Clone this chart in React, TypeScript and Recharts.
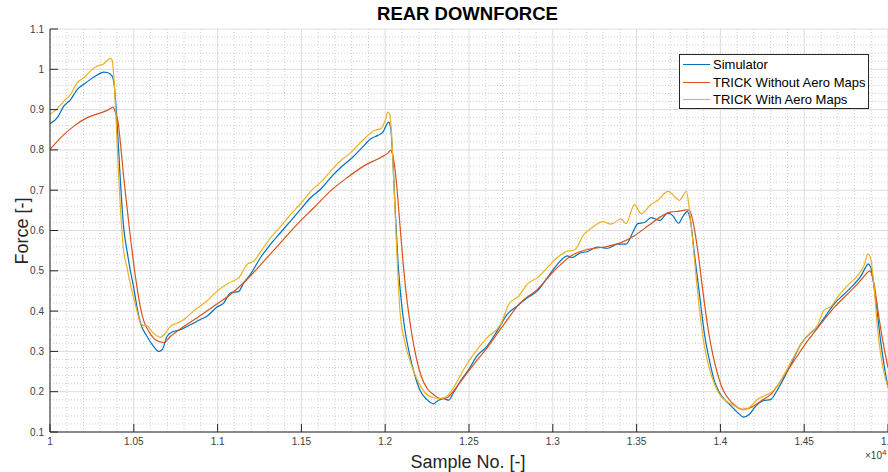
import React from "react";
import { LineChart, Line, XAxis, YAxis, CartesianGrid, Legend } from "recharts";

const FONT = "'Liberation Sans', Arial, Helvetica, sans-serif";
const AXIS = "#262626";

// tick labels (sample no. shown as x 10^4)
const xTicks = [10000, 10500, 11000, 11500, 12000, 12500, 13000, 13500, 14000, 14500, 15000];
const yTicks = [0.1, 0.2, 0.3, 0.4, 0.5, 0.6, 0.7, 0.8, 0.9, 1.0, 1.1];

// minor grid, every 100 samples / every 0.02
const xMinor = Array.from({ length: 51 }, (_, i) => 10000 + i * 100).filter((v) => v % 500 !== 0);
const yMinor = Array.from({ length: 51 }, (_, i) => +(0.1 + i * 0.02).toFixed(2)).filter(
  (v) => Math.round(v * 100) % 10 !== 0
);

// Simulator
const simSample = [
  10000, 10044, 10083, 10123, 10163, 10202, 10242, 10282, 10321, 10341, 10371, 10385, 10397, 10411, 10425,
  10440, 10460, 10480, 10500, 10520, 10540, 10579, 10619, 10649, 10669, 10698, 10728, 10778, 10837, 10897,
  10936, 10996, 11036, 11076, 11126, 11156, 11196, 11256, 11316, 11376, 11436, 11496, 11556, 11616, 11676,
  11736, 11796, 11856, 11916, 11956, 11986, 12006, 12020, 12032, 12046, 12060, 12076, 12096, 12116, 12146,
  12176, 12208, 12248, 12288, 12318, 12348, 12378, 12408, 12448, 12498, 12548, 12608, 12668, 12728, 12788,
  12848, 12908, 12968, 13027, 13087, 13117, 13157, 13207, 13267, 13327, 13387, 13437, 13477, 13507, 13547,
  13587, 13637, 13686, 13716, 13750, 13776, 13802, 13821, 13845, 13875, 13905, 13935, 13964, 13994, 14024,
  14063, 14103, 14139, 14173, 14212, 14252, 14302, 14331, 14381, 14431, 14480, 14530, 14579, 14629, 14679,
  14738, 14798, 14837, 14867, 14881, 14897, 14917, 14937, 14956, 14976, 15000,
];
const simForce = [
  0.865, 0.88, 0.909, 0.925, 0.95, 0.963, 0.975, 0.986, 0.993, 0.992, 0.983, 0.954, 0.888, 0.789, 0.689,
  0.606, 0.548, 0.499, 0.457, 0.408, 0.37, 0.337, 0.312, 0.3, 0.304, 0.337, 0.348, 0.354, 0.366, 0.379,
  0.387, 0.41, 0.42, 0.445, 0.449, 0.47, 0.491, 0.533, 0.566, 0.595, 0.624, 0.653, 0.682, 0.703, 0.732,
  0.757, 0.778, 0.803, 0.828, 0.836, 0.844, 0.861, 0.869, 0.857, 0.774, 0.649, 0.524, 0.425, 0.358, 0.292,
  0.242, 0.203, 0.181, 0.17, 0.179, 0.183, 0.179, 0.198, 0.226, 0.255, 0.289, 0.313, 0.351, 0.392, 0.413,
  0.433, 0.45, 0.483, 0.516, 0.537, 0.533, 0.543, 0.548, 0.559, 0.556, 0.566, 0.566, 0.595, 0.617, 0.62,
  0.632, 0.625, 0.643, 0.637, 0.618, 0.635, 0.647, 0.625, 0.542, 0.442, 0.343, 0.277, 0.227, 0.198, 0.181,
  0.165, 0.148, 0.137, 0.144, 0.165, 0.177, 0.181, 0.198, 0.235, 0.277, 0.318, 0.343, 0.36, 0.389, 0.418,
  0.442, 0.467, 0.486, 0.509, 0.517, 0.509, 0.459, 0.393, 0.326, 0.268, 0.21,
];

// TRICK Without Aero Maps
const noMapSample = [
  10000, 10063, 10143, 10222, 10302, 10341, 10361, 10375, 10391, 10405, 10421, 10440, 10460, 10480, 10500,
  10520, 10540, 10560, 10589, 10629, 10679, 10718, 10778, 10876, 10976, 11076, 11176, 11276, 11376, 11476,
  11576, 11676, 11776, 11876, 11976, 12016, 12032, 12046, 12066, 12086, 12106, 12126, 12156, 12186, 12216,
  12250, 12288, 12328, 12368, 12408, 12468, 12528, 12608, 12708, 12808, 12908, 13008, 13108, 13207, 13307,
  13407, 13487, 13567, 13647, 13706, 13756, 13795, 13815, 13835, 13865, 13895, 13925, 13954, 13984, 14014,
  14044, 14083, 14133, 14183, 14242, 14302, 14361, 14440, 14520, 14599, 14679, 14758, 14837, 14867, 14891,
  14917, 14946, 14976, 15000,
];
const noMapForce = [
  0.801, 0.83, 0.859, 0.88, 0.892, 0.898, 0.903, 0.906, 0.892, 0.872, 0.814, 0.731, 0.656, 0.582, 0.515,
  0.457, 0.408, 0.375, 0.35, 0.329, 0.322, 0.337, 0.356, 0.383, 0.412, 0.441, 0.479, 0.524, 0.57, 0.616,
  0.657, 0.699, 0.732, 0.761, 0.782, 0.792, 0.799, 0.786, 0.724, 0.624, 0.524, 0.441, 0.35, 0.283, 0.237,
  0.208, 0.193, 0.183, 0.185, 0.202, 0.235, 0.268, 0.309, 0.367, 0.421, 0.454, 0.5, 0.537, 0.553, 0.559,
  0.57, 0.587, 0.611, 0.635, 0.646, 0.648, 0.651, 0.65, 0.625, 0.55, 0.451, 0.36, 0.293, 0.243, 0.206,
  0.185, 0.167, 0.156, 0.161, 0.177, 0.194, 0.227, 0.277, 0.326, 0.368, 0.409, 0.442, 0.476, 0.491, 0.5,
  0.467, 0.384, 0.31, 0.26,
];

// TRICK With Aero Maps
const mapSample = [
  10000, 10044, 10083, 10123, 10163, 10202, 10242, 10282, 10321, 10341, 10361, 10371, 10381, 10391, 10405,
  10421, 10440, 10460, 10480, 10500, 10520, 10540, 10560, 10579, 10599, 10629, 10659, 10688, 10718, 10758,
  10798, 10856, 10936, 10996, 11066, 11126, 11176, 11216, 11266, 11316, 11376, 11436, 11496, 11566, 11616,
  11676, 11726, 11796, 11866, 11936, 11976, 12000, 12016, 12028, 12040, 12056, 12072, 12088, 12116, 12156,
  12196, 12236, 12288, 12328, 12368, 12408, 12468, 12528, 12608, 12688, 12738, 12798, 12848, 12908, 12968,
  13027, 13087, 13127, 13187, 13247, 13297, 13347, 13407, 13437, 13487, 13527, 13587, 13627, 13687, 13757,
  13797, 13816, 13846, 13876, 13906, 13936, 13966, 13994, 14034, 14083, 14133, 14173, 14222, 14262, 14302,
  14341, 14381, 14431, 14480, 14530, 14579, 14619, 14659, 14698, 14758, 14818, 14857, 14881, 14897, 14917,
  14941, 14966, 15000,
];
const mapForce = [
  0.888, 0.903, 0.921, 0.938, 0.967, 0.979, 0.996, 1.008, 1.014, 1.022, 1.027, 1.022, 0.979, 0.905, 0.772,
  0.648, 0.548, 0.507, 0.466, 0.432, 0.399, 0.37, 0.364, 0.364, 0.354, 0.341, 0.335, 0.345, 0.362, 0.37,
  0.379, 0.4, 0.425, 0.449, 0.47, 0.483, 0.516, 0.524, 0.553, 0.582, 0.61, 0.64, 0.667, 0.702, 0.72,
  0.748, 0.77, 0.794, 0.824, 0.848, 0.853, 0.873, 0.894, 0.886, 0.824, 0.674, 0.524, 0.4, 0.325, 0.267,
  0.225, 0.198, 0.185, 0.183, 0.189, 0.21, 0.255, 0.293, 0.334, 0.367, 0.417, 0.438, 0.467, 0.483, 0.508,
  0.533, 0.549, 0.551, 0.591, 0.611, 0.622, 0.616, 0.628, 0.617, 0.664, 0.642, 0.665, 0.675, 0.697, 0.675,
  0.697, 0.649, 0.525, 0.4, 0.309, 0.255, 0.218, 0.194, 0.177, 0.165, 0.155, 0.161, 0.181, 0.19, 0.198,
  0.214, 0.243, 0.281, 0.318, 0.343, 0.364, 0.403, 0.411, 0.434, 0.463, 0.488, 0.513, 0.542, 0.53, 0.459,
  0.343, 0.268, 0.21,
];

const toPoints = (samples: number[], force: number[]) =>
  samples.map((s, i) => ({ s, f: force[i] }));

const series = [
  { name: "Simulator", color: "#0072BD", data: toPoints(simSample, simForce) },
  { name: "TRICK Without Aero Maps", color: "#D95319", data: toPoints(noMapSample, noMapForce) },
  { name: "TRICK With Aero Maps", color: "#EDB120", data: toPoints(mapSample, mapForce) },
];

const fmtX = (v: number) => String(+(v / 10000).toFixed(2));
const fmtY = (v: number) => String(+v.toFixed(1));
const blank = () => "";

const tickStyle = { fontSize: 10, fill: "#404040", fontFamily: FONT };

const LegendBox = () => (
  <div
    style={{
      background: "#fff",
      border: `1px solid ${AXIS}`,
      boxSizing: "border-box",
      height: 55,
      paddingTop: 1,
      fontFamily: FONT,
      fontSize: "13px",
      color: "#000",
    }}
  >
    {series.map((s) => (
      <div key={s.name} style={{ display: "flex", alignItems: "center", height: 17.5, whiteSpace: "nowrap" }}>
        <span
          style={{
            display: "inline-block",
            width: 27,
            height: 0,
            borderTop: `1.5px solid ${s.color}`,
            marginLeft: 3,
            marginRight: 3,
          }}
        />
        <span>{s.name}</span>
      </div>
    ))}
  </div>
);

const App = () => {
  return (
    <div
      style={{
        position: "absolute",
        left: 0,
        top: 0,
        width: 888,
        height: 472,
        overflow: "hidden",
        background: "#fff",
        fontFamily: FONT,
      }}
    >
      <LineChart width={888} height={472} margin={{ top: 29, right: 0, bottom: 10, left: 0 }}>
        <CartesianGrid
          horizontalValues={yMinor}
          verticalValues={xMinor}
          stroke="#cfcfcf"
          strokeDasharray="1 2"
        />
        <CartesianGrid horizontalValues={yTicks} verticalValues={xTicks} stroke="#dcdcdc" />
        <XAxis
          dataKey="s"
          type="number"
          domain={[10000, 15000]}
          allowDataOverflow
          ticks={xTicks}
          interval={0}
          tickFormatter={fmtX}
          tick={tickStyle}
          tickSize={-8}
          tickMargin={14}
          height={30}
          stroke={AXIS}
        />
        <XAxis
          xAxisId="top"
          orientation="top"
          type="number"
          domain={[10000, 15000]}
          allowDataOverflow
          ticks={xTicks}
          interval={0}
          tickFormatter={blank}
          tickSize={-8}
          height={0}
          stroke={AXIS}
        />
        <YAxis
          type="number"
          domain={[0.1, 1.1]}
          allowDataOverflow
          ticks={yTicks}
          interval={0}
          tickFormatter={fmtY}
          tick={tickStyle}
          tickSize={-8}
          tickMargin={14}
          width={50}
          stroke={AXIS}
        />
        <YAxis
          yAxisId="right"
          orientation="right"
          type="number"
          domain={[0.1, 1.1]}
          allowDataOverflow
          ticks={yTicks}
          interval={0}
          tickFormatter={blank}
          tickSize={-8}
          width={0}
          stroke={AXIS}
        />
        <Legend
          layout="horizontal"
          verticalAlign="middle"
          align="center"
          content={<LegendBox />}
          wrapperStyle={{ left: 679, top: 54, width: 190 }}
        />
        {series.map((s) => (
          <Line
            key={s.name}
            data={s.data}
            dataKey="f"
            name={s.name}
            type="monotone"
            stroke={s.color}
            strokeWidth={1.2}
            dot={false}
            isAnimationActive={false}
          />
        ))}
      </LineChart>

      <div
        style={{
          position: "absolute",
          left: 0,
          width: 935,
          top: 5,
          textAlign: "center",
          fontSize: "18.5px",
          lineHeight: "18.5px",
          fontWeight: "bold",
          color: "#000",
        }}
      >
        REAR DOWNFORCE
      </div>
      <div
        style={{
          position: "absolute",
          left: 22,
          top: 231,
          transform: "translate(-50%, -50%) rotate(-90deg)",
          whiteSpace: "nowrap",
          fontSize: 18,
          lineHeight: "18px",
          color: AXIS,
        }}
      >
        Force [-]
      </div>
      <div
        style={{
          position: "absolute",
          left: 0,
          width: 936,
          top: 453,
          textAlign: "center",
          fontSize: 18,
          lineHeight: "18px",
          color: AXIS,
        }}
      >
        Sample No. [-]
      </div>
      <div
        style={{
          position: "absolute",
          left: 865,
          top: 451,
          fontSize: "10px",
          lineHeight: "10px",
          color: "#404040",
          whiteSpace: "nowrap",
        }}
      >
        ×10
        <span style={{ fontSize: "8px", position: "relative", top: -4 }}>4</span>
      </div>
    </div>
  );
};

export default App;
